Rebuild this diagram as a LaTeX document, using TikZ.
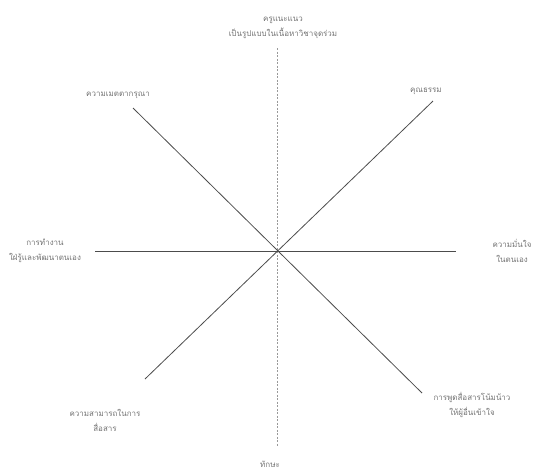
\documentclass[tikz,border=0pt]{standalone}
\usepackage{fontspec}
\newfontfamily\thaifont[Script=Thai]{Loma}
\usetikzlibrary{positioning}

\begin{document}
\begin{tikzpicture}[x=1pt, y=-1pt,
  axis/.style={draw=black!70, line width=0.8pt},
  vaxis/.style={draw=black!40, line width=0.6pt, dash pattern=on 2pt off 1.5pt},
  label/.style={align=center, font=\thaifont\fontsize{8}{15}\selectfont, text=black!55, inner sep=1pt}]

\useasboundingbox (0,0) rectangle (542,475);

% ends of the axes
\coordinate (c) at (277,251);
\coordinate (top) at (277,48);
\coordinate (bot) at (277,447);
\coordinate (lft) at (95,251);
\coordinate (rgt) at (456,251);
\coordinate (ul) at (133,108);
\coordinate (lr) at (422,393);
\coordinate (ur) at (433,101);
\coordinate (ll) at (145,379);

\draw[vaxis] (top) -- (bot);
\draw[axis] (lft) -- (rgt);
\draw[axis] (ul) -- (lr);
\draw[axis] (ur) -- (ll);

% labels
\node[label] (lbltop) at (283,28) {ครูแนะแนว\\เป็นรูปแบบในเนื้อหาวิชาจุดร่วม};
\node[label] (lblul) at (118,95) {ความเมตตากรุณา};
\node[label] (lblur) at (426,91) {คุณธรรม};
\node[label] (lbllft) at (45,251) {การทำงาน\\ใฝ่รู้และพัฒนาตนเอง};
\node[label] (lblrgt) at (512,251) {ความมั่นใจ\\ในตนเอง};
\node[label] (lblll) at (105,420) {ความสามารถในการ\\สื่อสาร};
\node[label] (lbllr) at (472,405) {การพูดสื่อสารโน้มน้าว\\ให้ผู้อื่นเข้าใจ};
\node[label] (lblbot) at (270,464) {ทักษะ};

\end{tikzpicture}
\end{document}
